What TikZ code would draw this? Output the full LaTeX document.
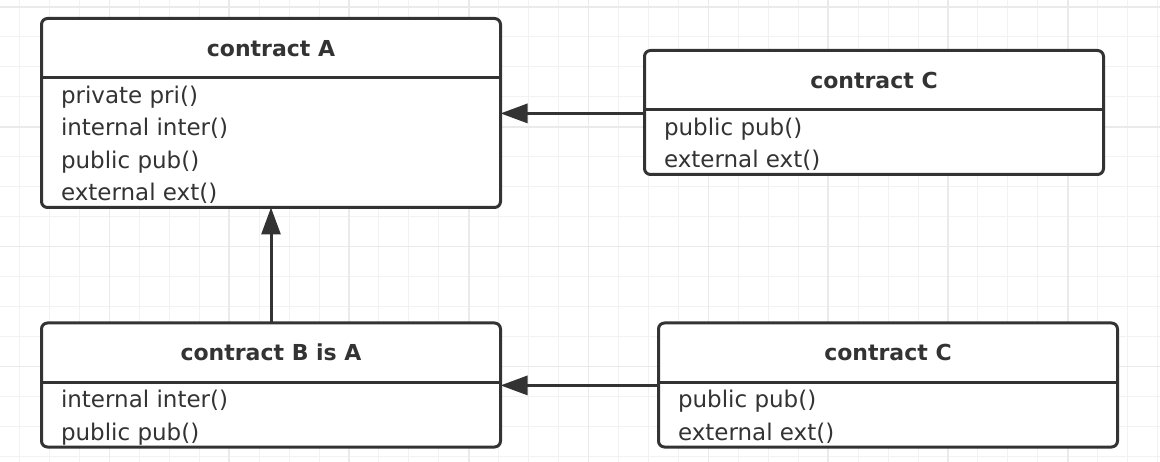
\documentclass[tikz,border=0pt]{standalone}
\usepackage{fontspec}
\setmainfont{DejaVu Sans}
\usetikzlibrary{arrows.meta}
\definecolor{ink}{HTML}{333333}
\definecolor{gridminor}{HTML}{F2F2F2}
\definecolor{gridmajor}{HTML}{EAEAEA}

\begin{document}
\begin{tikzpicture}[x=1pt,y=-1pt,
    classbox/.style={draw=ink,line width=3pt,rounded corners=6pt,fill=white,minimum width=459pt,inner sep=0pt,outer sep=0pt,anchor=north west},
    classhead/.style={anchor=north,minimum width=459pt,minimum height=59pt,inner sep=0pt,text=ink,font=\fontsize{22}{26}\selectfont\bfseries},
    classbody/.style={anchor=north west,inner sep=0pt,align=left,text=ink,font=\fontsize{23}{32.5}\selectfont},
    classline/.style={draw=ink,line width=3pt},
    inherit/.style={draw=ink,line width=3pt,-{Triangle[length=27pt,width=19pt]}}]
    \useasboundingbox (0,0) rectangle (1160,462);
    \fill[white] (0,0) rectangle (1160,462);
    % grid
    \foreach \i in {0,...,38}
        \draw[gridminor,line width=1pt] ({19.5+29.95*\i},0) -- ++(0,462);
    \foreach \j in {0,...,15}
        \draw[gridminor,line width=1pt] (0,{7+29.95*\j}) -- ++(1160,0);
    \foreach \i in {3,7,...,35}
        \draw[gridmajor,line width=1.6pt] ({19.5+29.95*\i},0) -- ++(0,462);
    \foreach \j in {0,4,8,12}
        \draw[gridmajor,line width=1.6pt] (0,{7+29.95*\j}) -- ++(1160,0);

    % contract A
    \node[classbox,minimum height=189pt] (A) at (41.5,18.5) {};
    \node[classhead] (Ahead) at (A.north) {contract A};
    \draw[classline] (Ahead.south west) -- (Ahead.south east);
    \node[classbody] (Abody) at ([xshift=19.5pt,yshift=-2.5pt]Ahead.south west) {\strut private pri()\\\strut internal inter()\\\strut public pub()\\\strut external ext()};

    % contract C (top)
    \node[classbox,minimum height=124pt] (Ctop) at (644.5,50.5) {};
    \node[classhead] (Ctophead) at (Ctop.north) {contract C};
    \draw[classline] (Ctophead.south west) -- (Ctophead.south east);
    \node[classbody] (Ctopbody) at ([xshift=19.5pt,yshift=-2.5pt]Ctophead.south west) {\strut public pub()\\\strut external ext()};

    % contract B
    \node[classbox,minimum height=124pt] (B) at (41.5,323) {};
    \node[classhead] (Bhead) at (B.north) {contract B is A};
    \draw[classline] (Bhead.south west) -- (Bhead.south east);
    \node[classbody] (Bbody) at ([xshift=19.5pt,yshift=-2.5pt]Bhead.south west) {\strut internal inter()\\\strut public pub()};

    % contract C (bottom)
    \node[classbox,minimum height=124pt] (Cbot) at (658.5,323) {};
    \node[classhead] (Cbothead) at (Cbot.north) {contract C};
    \draw[classline] (Cbothead.south west) -- (Cbothead.south east);
    \node[classbody] (Cbotbody) at ([xshift=19.5pt,yshift=-2.5pt]Cbothead.south west) {\strut public pub()\\\strut external ext()};

    % inheritance
    \coordinate (Ctopport) at ([yshift=-3.5pt]Ctophead.south);
    \coordinate (Cbotport) at ([yshift=-3pt]Cbothead.south);
    \draw[inherit] (Ctopport -| Ctop.west) -- (Ctopport -| A.east);
    \draw[inherit] (Cbotport -| Cbot.west) -- (Cbotport -| B.east);
    \draw[inherit] (B.north) -- (A.south);
\end{tikzpicture}
\end{document}
